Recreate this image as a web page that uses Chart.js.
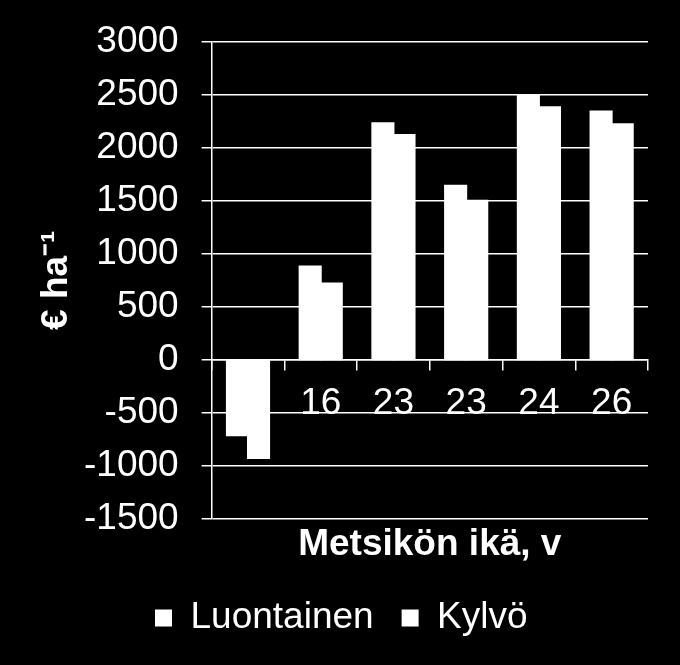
<!DOCTYPE html>
<html>
<head>
<meta charset="utf-8">
<script src="https://cdn.jsdelivr.net/npm/chart.js@4"></script>
<style>
  html, body { margin: 0; padding: 0; background: #000; }
  #wrap { width: 680px; height: 665px; }
</style>
</head>
<body>
<div id="wrap"><canvas id="barChart"></canvas></div>
<script>
// stand age (years) per stand, first one has no label
var ages = ["", "16", "23", "23", "24", "26"];
var luontainen = [-710, 880, 2230, 1640, 2490, 2340];
var kylvo = [-925, 720, 2120, 1500, 2380, 2220];
var yMin = -1500, yMax = 3000, yStep = 500;

Chart.defaults.font.family = "'Liberation Sans', Arial, sans-serif";
Chart.defaults.color = '#fff';

var ctx_bar = document.getElementById("barChart");
var barChart = new Chart(ctx_bar, {
    type: 'bar',
    data: {
        labels: ages,
        datasets: [{
            label: 'Luontainen',
            data: luontainen,
            backgroundColor: '#fff',
            borderWidth: 0,
            inflateAmount: 1,
            categoryPercentage: 0.58,
            barPercentage: 1.0
        }, {
            label: 'Kylvö',
            data: kylvo,
            backgroundColor: '#fff',
            borderWidth: 0,
            inflateAmount: 1,
            categoryPercentage: 0.58,
            barPercentage: 1.0
        }]
    },
    options: {
        responsive: true,
        maintainAspectRatio: false,
        animation: false,
        layout: {
            padding: { left: 34.6, right: 32, top: 37, bottom: 18.5 }
        },
        scales: {
            x: {
                position: { y: 0 },
                grid: {
                    offset: true,
                    drawOnChartArea: false,
                    drawTicks: true,
                    tickLength: 10,
                    color: '#fff',
                    lineWidth: 1.5
                },
                border: { display: true, color: '#fff', width: 1.5 },
                ticks: {
                    color: '#fff',
                    font: { size: 37 },
                    padding: 12,
                    maxRotation: 0,
                    autoSkip: false
                }
            },
            xTitle: {
                type: 'category',
                position: 'bottom',
                grid: { display: false, drawTicks: false },
                border: { display: false },
                ticks: { display: false },
                title: {
                    display: true,
                    text: 'Metsikön ikä, v',
                    color: '#fff',
                    font: { size: 37, weight: 'bold' },
                    padding: { top: 3, bottom: 5 }
                }
            },
            y: {
                min: yMin,
                max: yMax,
                ticks: {
                    stepSize: yStep,
                    color: '#fff',
                    font: { size: 37, lineHeight: 1.0 },
                    padding: 23,
                    callback: function (value) { return String(value); }
                },
                grid: {
                    color: '#fff',
                    lineWidth: 1.5,
                    tickLength: 10
                },
                border: { display: true, color: '#fff', width: 1.5 },
                title: {
                    display: true,
                    text: '€ ha⁻¹',
                    color: '#fff',
                    font: { size: 37, weight: 'bold' },
                    padding: { top: 0, bottom: -18 }
                }
            }
        },
        plugins: {
            legend: {
                display: true,
                position: 'bottom',
                labels: {
                    color: '#fff',
                    font: { size: 37 },
                    boxWidth: 17,
                    boxHeight: 17,
                    padding: 28
                }
            },
            tooltip: { enabled: false }
        }
    }
});
</script>
</body>
</html>
